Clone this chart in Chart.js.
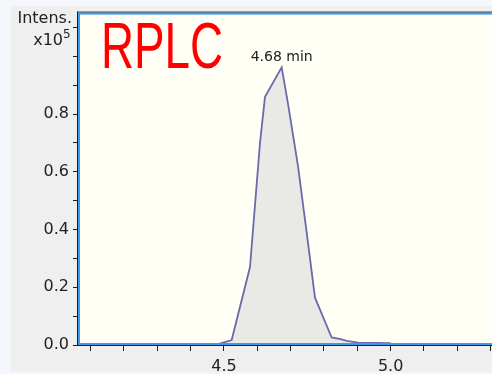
<!DOCTYPE html>
<html>
<head>
<meta charset="utf-8">
<script src="https://cdn.jsdelivr.net/npm/chart.js@4/dist/chart.umd.min.js"></script>
<style>
  html, body { margin: 0; padding: 0; overflow: hidden; background: #f3f7fb; }
  .panel { position: absolute; left: 11px; top: 6px; width: 481px; height: 366px; background: #efefef; }
  #chart { position: absolute; left: 0; top: 0; }
</style>
</head>
<body>
<div class="panel"></div>
<canvas id="chart" width="500" height="374"></canvas>
<script>
// retention time (min) and intensity (x10^5)
const times = [4.47, 4.482, 4.523, 4.578, 4.608, 4.623, 4.673, 4.692, 4.722, 4.748, 4.773, 4.823, 4.85, 4.868, 4.903, 5.0];
const intens = [0, 0.003, 0.017, 0.27, 0.70, 0.86, 0.962, 0.836, 0.62, 0.39, 0.164, 0.026, 0.02, 0.014, 0.008, 0.006];

const xTicks = [4.1, 4.2, 4.3, 4.4, 4.5, 4.6, 4.7, 4.8, 4.9, 5.0, 5.1, 5.2, 5.3];
const xLabels = [4.5, 5.0];
const yTicks = [0, 0.1, 0.2, 0.3, 0.4, 0.5, 0.6, 0.7, 0.8, 0.9, 1.0, 1.1];
const yLabels = [0, 0.2, 0.4, 0.6, 0.8];

const peakTime = 4.673;
const peakLabel = '4.68 min';
const title = 'RPLC';

const points = times.map((t, i) => ({ x: t, y: intens[i] }));

const frame = {
    id: 'frame',
    beforeDraw(chart) {
        const { ctx, chartArea: a } = chart;
        ctx.save();
        ctx.fillStyle = '#fffff6';
        ctx.fillRect(a.left, a.top, a.right - a.left, a.bottom - a.top);
        ctx.restore();
    },
    afterDraw(chart) {
        const { ctx, chartArea: a, scales } = chart;
        ctx.save();
        // borders
        ctx.fillStyle = '#1c1c1c';
        ctx.fillRect(a.left - 1, a.top - 2, a.right - a.left + 1, 1);
        ctx.fillRect(a.left - 1, a.top - 2, 1, a.bottom - a.top + 3);
        ctx.fillRect(a.left - 1, a.bottom, a.right - a.left + 1, 1);
        ctx.fillStyle = '#3a9bef';
        ctx.fillRect(a.left, a.top - 1, a.right - a.left, 2);
        ctx.fillRect(a.left, a.top - 1, 2, a.bottom - a.top + 1);
        ctx.fillRect(a.left, a.bottom - 2, a.right - a.left, 2);

        // axis title
        ctx.fillStyle = '#222';
        ctx.font = '16px "DejaVu Sans"';
        ctx.textAlign = 'right';
        ctx.textBaseline = 'alphabetic';
        ctx.fillText('Intens.', 72, 23);
        ctx.fillText('x10', 63, 45);
        ctx.font = '12px "DejaVu Sans"';
        ctx.textAlign = 'left';
        ctx.fillText('5', 63, 38);

        // peak label
        const px = scales.x.getPixelForValue(peakTime);
        const py = scales.y.getPixelForValue(intens[times.indexOf(peakTime)]);
        ctx.font = '14px "DejaVu Sans"';
        ctx.textAlign = 'center';
        ctx.fillText(peakLabel, px, py - 6);

        // big red title, condensed
        ctx.font = '64px "Liberation Sans"';
        const w = ctx.measureText(title).width;
        ctx.translate(101, 68);
        ctx.scale(122 / w, 1);
        ctx.fillStyle = '#ff0000';
        ctx.textAlign = 'left';
        ctx.fillText(title, 0, 0);
        ctx.restore();
    }
};

new Chart(document.getElementById('chart'), {
    type: 'line',
    data: {
        datasets: [{
            data: points,
            borderColor: '#6a6aa8',
            borderWidth: 1.8,
            backgroundColor: '#e9e9e6',
            fill: 'origin',
            pointRadius: 0,
            tension: 0
        }]
    },
    options: {
        responsive: false,
        animation: false,
        devicePixelRatio: 1,
        layout: { padding: { top: 8, right: 3, left: 0, bottom: 0 } },
        plugins: { legend: { display: false }, tooltip: { enabled: false } },
        scales: {
            x: {
                type: 'linear',
                min: 4.062,
                max: 5.319,
                afterFit(s) { s.height = 29; },
                afterBuildTicks(s) { s.ticks = xTicks.map(v => ({ value: v })); },
                grid: { drawOnChartArea: false, tickLength: 6, color: '#1c1c1c' },
                border: { display: false },
                ticks: {
                    padding: 6,
                    color: '#222',
                    font: { family: 'DejaVu Sans', size: 16 },
                    maxRotation: 0,
                    autoSkip: false,
                    callback: v => xLabels.some(l => Math.abs(l - v) < 1e-6) ? v.toFixed(1) : ''
                }
            },
            y: {
                min: 0,
                max: 1.148,
                afterFit(s) { s.width = 78; },
                afterBuildTicks(s) { s.ticks = yTicks.map(v => ({ value: v })); },
                grid: { drawOnChartArea: false, tickLength: 5, color: '#1c1c1c' },
                border: { display: false },
                ticks: {
                    padding: 4,
                    color: '#222',
                    font: { family: 'DejaVu Sans', size: 16 },
                    autoSkip: false,
                    callback: v => yLabels.some(l => Math.abs(l - v) < 1e-6) ? v.toFixed(1) : ''
                }
            }
        }
    },
    plugins: [frame]
});
</script>
</body>
</html>
